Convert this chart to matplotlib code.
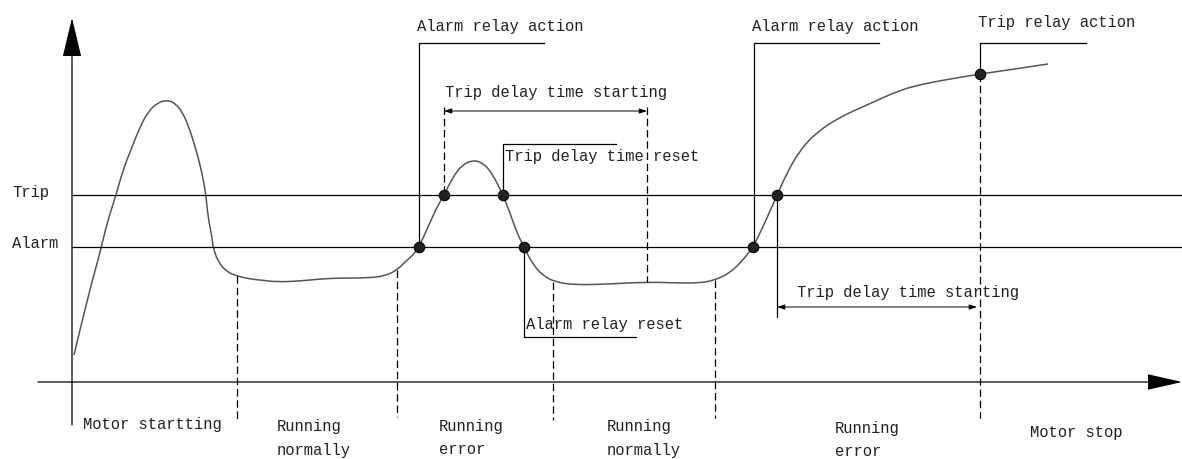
import matplotlib
matplotlib.use("Agg")
import matplotlib.pyplot as plt
from matplotlib.path import Path
from matplotlib.patches import PathPatch

# drawing is in picture units (x to the right, y downwards)
trip_level = 195
alarm_level = 247
x_axis_level = 382
y_axis_pos = 72

# current curve
curve_x = [74, 87, 100, 107, 116, 123, 132, 140, 148, 157,
           167, 175, 183, 190, 197, 202, 206, 208, 212, 213,
           218, 227, 237, 250, 260, 277, 300, 320, 340, 367,
           385, 397, 405, 413, 419, 428, 437, 444, 453, 462,
           473, 483, 492, 503, 510, 517, 524, 532, 542, 555,
           575, 610, 647, 680, 700, 715, 730, 743, 753, 763,
           777, 787, 800, 817, 840, 867, 900, 923, 950, 980,
           1015, 1048]
curve_y = [355, 300, 253, 223, 195, 170, 147, 127, 112, 103,
           100, 103, 113, 130, 153, 173, 195, 217, 237, 247,
           262, 272, 276, 279, 280, 282, 281, 279, 278, 278,
           276, 270, 262, 255, 247, 227, 207, 195, 177, 165,
           160, 163, 173, 195, 213, 233, 247, 263, 275, 282,
           285, 284, 282, 283, 283, 280, 273, 260, 247, 227,
           195, 173, 150, 132, 117, 105, 90, 84, 79, 74,
           69, 64]

# relay events (dots)
event_x = [419, 444, 503, 524, 753, 777, 980]
event_y = [247, 195, 195, 247, 247, 195, 74]

# phase boundaries (dashed) : x, top, bottom
phase_x = [237, 397, 553, 715, 980]
phase_top = [276, 270, 282, 280, 74]
phase_bottom = [420, 417, 420, 418, 418]

phase_labels = ["Motor startting", "Running\nnormally", "Running\nerror",
                "Running\nnormally", "Running\nerror", "Motor stop"]
phase_label_x = [83, 277, 439, 607, 835, 1030]
phase_label_y = [425, 427, 427, 427, 429, 432]

# callouts: leader path and text
callout_paths = [
    ([419, 419, 544], [247, 43, 43]),
    ([503, 503, 616], [195, 144, 144]),
    ([524, 524, 636], [247, 337, 337]),
    ([754, 754, 879], [247, 43, 43]),
    ([980, 980, 1086], [74, 43, 43]),
    ([777, 777], [195, 317]),
]
callout_texts = ["Alarm relay action", "Trip delay time reset", "Alarm relay reset",
                 "Alarm relay action", "Trip relay action",
                 "Trip delay time starting", "Trip delay time starting"]
callout_tx = [417, 505, 526, 752, 978, 445, 797]
callout_ty = [27, 157, 325, 27, 23, 93, 292]

# trip delay spans
span_start = [444, 777]
span_end = [647, 977]
span_y = [111, 307]
span_dash_x = [444, 647]
span_dash_top = [107, 107]
span_dash_bottom = [195, 282]

fig = plt.figure(figsize=(11.82, 4.59), dpi=100)
ax = fig.add_axes([0, 0, 1, 1])
ax.set_xlim(0, 1182)
ax.set_ylim(459, 0)
ax.axis("off")

font = dict(family="Liberation Mono", fontsize=11.2, color="#222222")
lw = 0.9

# axes with arrows
ax.annotate("", xy=(y_axis_pos, 18), xytext=(y_axis_pos, 425),
            arrowprops=dict(arrowstyle="-|>,head_length=2.5,head_width=0.6",
                            color="black", lw=lw, shrinkA=0, shrinkB=0))
ax.annotate("", xy=(1182, x_axis_level), xytext=(38, x_axis_level),
            arrowprops=dict(arrowstyle="-|>,head_length=2.2,head_width=0.5",
                            color="black", lw=lw, shrinkA=0, shrinkB=0))

# threshold lines
ax.hlines([trip_level, alarm_level], y_axis_pos, 1182, color="black", lw=lw)
ax.text(12, trip_level - 2, "Trip", va="center", **font)
ax.text(12, alarm_level - 3, "Alarm", va="center", **font)

# phase boundaries and labels
ax.vlines(phase_x, phase_top, phase_bottom, colors="black", lw=lw,
          linestyles=(0, (6, 3)))
for lab, x, y in zip(phase_labels, phase_label_x, phase_label_y):
    lines = lab.split("\n")
    for i, line in enumerate(lines):
        ax.text(x, y + i * 23, line, va="center", **font)

# trip delay spans
ax.vlines(span_dash_x, span_dash_top, span_dash_bottom, colors="black", lw=lw,
          linestyles=(0, (6, 3)))
for x0, x1, y in zip(span_start, span_end, span_y):
    ax.annotate("", xy=(x1, y), xytext=(x0, y),
                arrowprops=dict(arrowstyle="<|-|>,head_length=0.45,head_width=0.15",
                                color="black", lw=0.7, shrinkA=0, shrinkB=0))

# callout leaders and texts
for px, py in callout_paths:
    ax.plot(px, py, color="black", lw=lw)
for t, x, y in zip(callout_texts, callout_tx, callout_ty):
    ax.text(x, y, t, va="center", **font)

# curve: read points used as quadratic bezier controls so it is drawn smooth
pts = list(zip(curve_x, curve_y))
verts = [pts[0]]
codes = [Path.MOVETO]
for i in range(1, len(pts) - 1):
    mid = ((pts[i][0] + pts[i + 1][0]) / 2, (pts[i][1] + pts[i + 1][1]) / 2)
    verts += [pts[i], mid]
    codes += [Path.CURVE3, Path.CURVE3]
verts.append(pts[-1])
codes.append(Path.LINETO)
ax.add_patch(PathPatch(Path(verts, codes), facecolor="none",
                       edgecolor="#555555", lw=1.1))

ax.plot(event_x, event_y, "o", color="#222222", markersize=7.5,
        markeredgecolor="black", markeredgewidth=0.8)

fig.savefig("out.png", dpi=100)
